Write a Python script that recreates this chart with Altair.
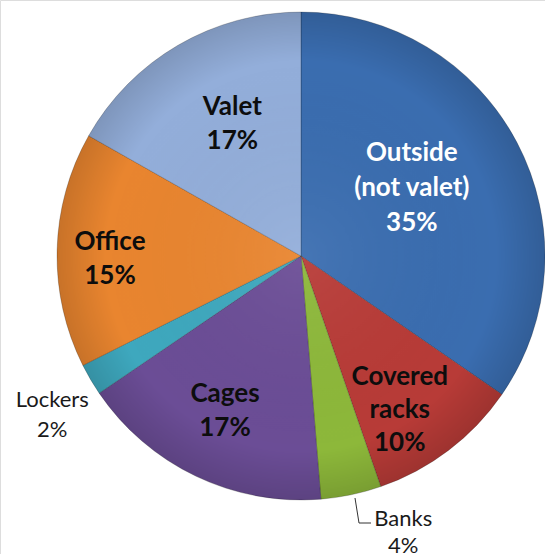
import math
import altair as alt
import pandas as pd

# ---- data ----
names = ["Outside\n(not valet)", "Covered\nracks", "Banks", "Cages", "Lockers", "Office", "Valet"]
shares = [34.6, 10.1, 4.0, 16.8, 2.1, 15.6, 16.8]
pct_labels = ["35%", "10%", "4%", "17%", "2%", "15%", "17%"]
colors = ["#3A6DB0", "#B83B37", "#8DB83A", "#6B4D96", "#3EA8BE", "#E9852F", "#93AEDA"]

# ---- label layout (placement style, not data) ----
label_r = [130, 183, 295, 173, 295, 191, 149]          # px from pie centre
label_nudge = [-3.8, 4.6, -8.4, 0.5, -2.1, -2.2, 2.8]  # degrees from slice mid-angle
group = ["light3", "dark3", "banks", "dark2", "lockers", "dark2", "dark2"]

full = [n + "\n" + p for n, p in zip(names, pct_labels)]
df = pd.DataFrame({
    "name": names,
    "share": shares,
    "idx": list(range(len(names))),
    "r": label_r,
    "nudge": label_nudge,
})
for g in set(group):
    df[g] = [t if gg == g else "" for t, gg in zip(full, group)]

CX, CY, R = 301, 256, 244

theta_scale = alt.Scale(domain=[0, 1], range=[0, 2 * math.pi])

base = alt.Chart(df).transform_joinaggregate(
    total="sum(share)"
).transform_window(
    cum="sum(share)", sort=[alt.SortField("idx", order="ascending")], frame=[None, 0]
).transform_calculate(
    t0="(datum.cum - datum.share) / datum.total",
    t1="datum.cum / datum.total",
    tm="(datum.cum - datum.share / 2) / datum.total + datum.nudge / 360",
).encode(
    x=alt.value(CX),
    y=alt.value(CY),
)

pie = base.mark_arc(radius=R, stroke="#000000", strokeOpacity=0.25, strokeWidth=0.8).encode(
    theta=alt.Theta("t0:Q", scale=theta_scale, stack=None),
    theta2="t1:Q",
    color=alt.Color("name:N", scale=alt.Scale(domain=names, range=colors), legend=None),
)

shade = alt.Chart(pd.DataFrame({"k": [0]})).mark_arc(
    radius=R, theta=0, theta2=2 * math.pi,
    fill=alt.Gradient(
        gradient="radial", x1=0.5, y1=0.5, x2=0.5, y2=0.5, r1=0, r2=0.5,
        stops=[
            alt.GradientStop(color="rgba(255,255,255,0.06)", offset=0),
            alt.GradientStop(color="rgba(0,0,0,0)", offset=0.8),
            alt.GradientStop(color="rgba(0,0,0,0.14)", offset=1),
        ],
    ),
).encode(x=alt.value(CX), y=alt.value(CY))

rad = alt.Radius("r:Q", scale=None)
th = alt.Theta("tm:Q", scale=theta_scale, stack=None)
font = "Lato"


def label_layer(field, size, weight, lh, nlines, color):
    return base.mark_text(
        font=font, fontSize=size, fontWeight=weight, lineBreak="\n", lineHeight=lh,
        dy=-(nlines - 1) * lh / 2, color=color, align="center", baseline="middle",
    ).encode(theta=th, radius=rad, text=f"{field}:N")


t_dark2 = label_layer("dark2", 26, "bold", 34, 2, "#0d0d0d")
t_dark3 = label_layer("dark3", 26, "bold", 33, 3, "#0d0d0d")
t_light3 = label_layer("light3", 26, "bold", 35, 3, "#ffffff")
t_lockers = label_layer("lockers", 22, "normal", 30, 2, "#1a1a1a")
t_banks = label_layer("banks", 22, "normal", 27, 2, "#1a1a1a")

lead_v = alt.Chart(pd.DataFrame({"k": [0]})).mark_rule(color="#333333", strokeWidth=1).encode(
    x=alt.value(355), x2=alt.value(359), y=alt.value(498), y2=alt.value(523))
lead_h = alt.Chart(pd.DataFrame({"k": [0]})).mark_rule(color="#333333", strokeWidth=1).encode(
    x=alt.value(359), x2=alt.value(371), y=alt.value(523))

chart = alt.layer(pie, shade, t_dark2, t_dark3, t_light3, t_lockers, t_banks, lead_v, lead_h).properties(
    width=545, height=554, padding=0, autosize=alt.AutoSizeParams(type="none")
).configure_view(stroke=None).configure(background="#ffffff")

chart.save("out.html", embed_options={"renderer": "svg", "actions": False})
